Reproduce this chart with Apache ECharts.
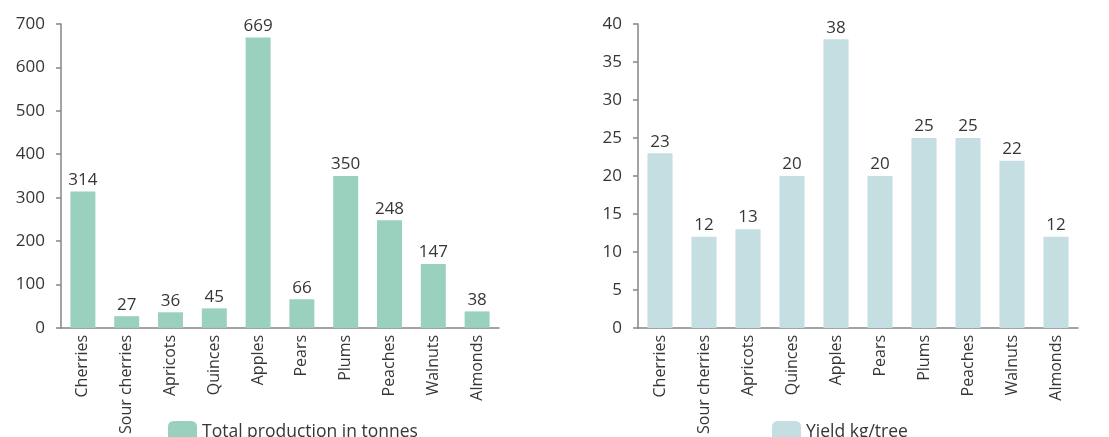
<!DOCTYPE html>
<html>
<head>
<meta charset="utf-8">
<script src="https://cdn.jsdelivr.net/npm/echarts@6/dist/echarts.min.js"></script>
<style>html,body{margin:0;padding:0;background:#fff;}#c{width:1109px;height:437px;}</style>
</head>
<body>
<div id="c"></div>
<script>
const categories = ["Cherries","Sour cherries","Apricots","Quinces","Apples","Pears","Plums","Peaches","Walnuts","Almonds"];
const production = [314,27,36,45,669,66,350,248,147,38];
const yieldPerTree = [23,12,13,20,38,20,25,25,22,12];
const prodTicks = {min:0,max:700,interval:100};
const yieldTicks = {min:0,max:40,interval:5};

const FONT = "Open Sans";
const TXT = "#363636";
const AX = "#858585";
const chart = echarts.init(document.getElementById('c'), null, {renderer:'canvas'});

function xAxis(gi){
  return {type:'category', gridIndex:gi, data:categories,
    axisLine:{lineStyle:{color:AX,width:1.5}}, axisTick:{show:false},
    axisLabel:{rotate:90, margin:7, color:TXT, fontFamily:FONT, fontSize:16}};
}
function yAxis(gi,t){
  return {type:'value', gridIndex:gi, min:t.min, max:t.max, interval:t.interval,
    axisLine:{show:true, lineStyle:{color:AX,width:1.5}},
    axisTick:{show:true, length:5, lineStyle:{color:AX,width:1.5}},
    splitLine:{show:false},
    axisLabel:{color:TXT, fontFamily:FONT, fontSize:17, margin:16}};
}
function bar(name, data, gi, color){
  return {name:name, type:'bar', xAxisIndex:gi, yAxisIndex:gi, data:data,
    barCategoryGap:'43%', itemStyle:{color:color},
    label:{show:true, position:'top', distance:3, color:TXT, fontFamily:FONT, fontSize:17}};
}
chart.setOption({
  animation:false,
  grid:[
    {left:61, width:438, top:24, bottom:109},
    {left:638, width:440, top:24, bottom:109}
  ],
  xAxis:[xAxis(0), xAxis(1)],
  yAxis:[yAxis(0,prodTicks), yAxis(1,yieldTicks)],
  legend:[
    {data:['Total production in tonnes'], left:163, top:416, itemWidth:29, itemHeight:22, itemGap:6,
     textStyle:{color:TXT, fontFamily:FONT, fontSize:17.5}},
    {data:['Yield kg/tree'], left:767, top:416, itemWidth:29, itemHeight:22, itemGap:6,
     textStyle:{color:TXT, fontFamily:FONT, fontSize:17.5}}
  ],
  series:[
    bar('Total production in tonnes', production, 0, '#99d0be'),
    bar('Yield kg/tree', yieldPerTree, 1, '#c5dee2')
  ]
});
</script>
</body>
</html>
